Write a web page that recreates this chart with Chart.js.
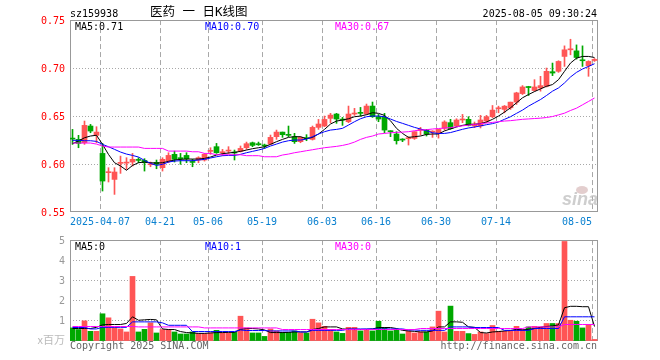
<!DOCTYPE html>
<html><head><meta charset="utf-8">
<script src="https://cdn.jsdelivr.net/npm/chart.js@4"></script>
<style>
html,body{margin:0;padding:0;background:#fff;}
#wrap{position:relative;width:660px;height:360px;overflow:hidden;}
canvas{position:absolute;left:0;top:0;}
</style></head><body>
<div id="wrap"><canvas id="k" width="660" height="360"></canvas><canvas id="v" width="660" height="360"></canvas></div>
<script>
// ---------------- data ----------------
const dates = ['03-28','03-31','04-01','04-02','04-03','04-07','04-08','04-09','04-10','04-11',
 '04-14','04-15','04-16','04-17','04-18','04-21','04-22','04-23','04-24','04-25',
 '04-28','04-29','04-30','05-06','05-07','05-08','05-09','05-12','05-13','05-14',
 '05-15','05-16','05-19','05-20','05-21','05-22','05-23','05-26','05-27','05-28',
 '05-29','05-30','06-03','06-04','06-05','06-06','06-09','06-10','06-11','06-12',
 '06-13','06-16','06-17','06-18','06-19','06-20','06-23','06-24','06-25','06-26',
 '06-27','06-30','07-01','07-02','07-03','07-04','07-07','07-08','07-09','07-10',
 '07-11','07-14','07-15','07-16','07-17','07-18','07-21','07-22','07-23','07-24',
 '07-25','07-28','07-29','07-30','07-31','08-01','08-04','08-05'];

const open = [0.6267,0.6257,0.6222,0.6396,0.6299,0.6111,0.5910,0.5840,0.6007,0.6010,
 0.6021,0.6045,0.6038,0.5993,0.6017,0.5962,0.6031,0.6101,0.6063,0.6090,
 0.6024,0.6042,0.6042,0.6132,0.6181,0.6118,0.6135,0.6122,0.6132,0.6170,
 0.6222,0.6212,0.6194,0.6208,0.6285,0.6333,0.6306,0.6285,0.6233,0.6271,
 0.6257,0.6382,0.6396,0.6476,0.6521,0.6462,0.6441,0.6521,0.6531,0.6521,
 0.6604,0.6493,0.6486,0.6340,0.6313,0.6253,0.6264,0.6267,0.6351,0.6354,
 0.6333,0.6319,0.6372,0.6431,0.6397,0.6459,0.6466,0.6397,0.6397,0.6448,
 0.6493,0.6576,0.6569,0.6586,0.6645,0.6734,0.6807,0.6766,0.6793,0.6810,
 0.6962,0.6966,0.7121,0.7190,0.7179,0.7086,0.7024,0.7079];
const high = [0.6361,0.6299,0.6448,0.6413,0.6389,0.6215,0.5962,0.5962,0.6083,0.6066,
 0.6111,0.6066,0.6056,0.6021,0.6042,0.6066,0.6118,0.6135,0.6111,0.6118,
 0.6049,0.6076,0.6111,0.6170,0.6215,0.6153,0.6181,0.6146,0.6188,0.6229,
 0.6229,0.6229,0.6208,0.6302,0.6354,0.6333,0.6396,0.6320,0.6285,0.6306,
 0.6396,0.6465,0.6500,0.6528,0.6528,0.6486,0.6604,0.6580,0.6590,0.6625,
 0.6646,0.6517,0.6528,0.6347,0.6337,0.6264,0.6285,0.6337,0.6382,0.6361,
 0.6347,0.6361,0.6451,0.6466,0.6472,0.6517,0.6493,0.6438,0.6507,0.6507,
 0.6610,0.6603,0.6610,0.6645,0.6748,0.6817,0.6810,0.6879,0.6914,0.7000,
 0.7052,0.7076,0.7231,0.7300,0.7241,0.7231,0.7076,0.7100];
const low = [0.6205,0.6170,0.6205,0.6326,0.6222,0.5719,0.5813,0.5684,0.5903,0.5944,
 0.5979,0.6014,0.5927,0.5972,0.5951,0.5927,0.6014,0.6021,0.5997,0.6014,
 0.5972,0.6014,0.6031,0.6101,0.6111,0.6090,0.6111,0.6042,0.6125,0.6153,
 0.6181,0.6194,0.6163,0.6205,0.6257,0.6278,0.6285,0.6215,0.6222,0.6243,
 0.6250,0.6361,0.6389,0.6431,0.6424,0.6403,0.6431,0.6507,0.6500,0.6517,
 0.6486,0.6441,0.6326,0.6285,0.6208,0.6233,0.6198,0.6257,0.6302,0.6292,
 0.6278,0.6270,0.6354,0.6362,0.6390,0.6431,0.6397,0.6379,0.6376,0.6431,
 0.6483,0.6534,0.6534,0.6569,0.6621,0.6724,0.6714,0.6759,0.6759,0.6803,
 0.6921,0.6955,0.7017,0.7138,0.7093,0.7017,0.6914,0.7069];
const close = [0.6260,0.6215,0.6403,0.6344,0.6333,0.5823,0.5917,0.5917,0.6014,0.6017,
 0.6049,0.6038,0.6014,0.6000,0.5997,0.6049,0.6090,0.6049,0.6056,0.6056,
 0.6017,0.6066,0.6101,0.6139,0.6118,0.6125,0.6142,0.6115,0.6163,0.6212,
 0.6194,0.6201,0.6188,0.6278,0.6333,0.6306,0.6299,0.6233,0.6278,0.6264,
 0.6382,0.6417,0.6465,0.6510,0.6469,0.6458,0.6521,0.6528,0.6528,0.6604,
 0.6493,0.6469,0.6354,0.6337,0.6243,0.6250,0.6267,0.6337,0.6354,0.6313,
 0.6337,0.6361,0.6438,0.6369,0.6459,0.6466,0.6403,0.6417,0.6459,0.6493,
 0.6562,0.6583,0.6603,0.6645,0.6741,0.6803,0.6797,0.6803,0.6817,0.6966,
 0.6948,0.7069,0.7190,0.7200,0.7110,0.7076,0.7069,0.7090];

const ma5 = [0.6212,0.6240,0.6274,0.6292,0.6300,0.6205,0.6100,0.6014,0.5980,0.5935,
 0.5985,0.6014,0.6021,0.6014,0.6010,0.6014,0.6028,0.6042,0.6049,0.6052,
 0.6052,0.6052,0.6059,0.6073,0.6094,0.6108,0.6115,0.6122,0.6132,0.6146,
 0.6160,0.6170,0.6180,0.6205,0.6233,0.6257,0.6278,0.6285,0.6285,0.6264,
 0.6278,0.6313,0.6361,0.6417,0.6448,0.6458,0.6472,0.6493,0.6500,0.6514,
 0.6535,0.6528,0.6507,0.6451,0.6372,0.6319,0.6278,0.6285,0.6292,0.6309,
 0.6313,0.6313,0.6345,0.6366,0.6386,0.6403,0.6414,0.6414,0.6421,0.6438,
 0.6466,0.6500,0.6541,0.6586,0.6638,0.6690,0.6724,0.6755,0.6783,0.6810,
 0.6828,0.6879,0.6966,0.7052,0.7103,0.7121,0.7121,0.7110];
const ma10 = [0.6247,0.6247,0.6243,0.6243,0.6236,0.6205,0.6180,0.6153,0.6125,0.6104,
 0.6090,0.6073,0.6038,0.6007,0.5986,0.5997,0.6021,0.6031,0.6035,0.6035,
 0.6035,0.6042,0.6049,0.6063,0.6076,0.6087,0.6090,0.6090,0.6101,0.6118,
 0.6132,0.6146,0.6163,0.6188,0.6208,0.6229,0.6243,0.6250,0.6250,0.6260,
 0.6285,0.6313,0.6337,0.6354,0.6361,0.6372,0.6406,0.6441,0.6472,0.6493,
 0.6500,0.6500,0.6493,0.6469,0.6444,0.6424,0.6403,0.6382,0.6365,0.6347,
 0.6326,0.6319,0.6319,0.6328,0.6345,0.6362,0.6376,0.6386,0.6397,0.6410,
 0.6421,0.6438,0.6466,0.6493,0.6528,0.6562,0.6603,0.6638,0.6672,0.6714,
 0.6759,0.6793,0.6845,0.6907,0.6955,0.6990,0.7017,0.7045];
const ma30 = [0.6219,0.6219,0.6219,0.6219,0.6208,0.6188,0.6177,0.6177,0.6177,0.6177,
 0.6177,0.6177,0.6163,0.6163,0.6163,0.6163,0.6135,0.6135,0.6135,0.6135,
 0.6128,0.6128,0.6111,0.6111,0.6097,0.6097,0.6097,0.6097,0.6097,0.6087,
 0.6087,0.6087,0.6076,0.6076,0.6076,0.6094,0.6104,0.6118,0.6128,0.6139,
 0.6149,0.6160,0.6170,0.6177,0.6184,0.6194,0.6208,0.6229,0.6257,0.6278,
 0.6292,0.6313,0.6319,0.6326,0.6330,0.6333,0.6337,0.6347,0.6354,0.6358,
 0.6365,0.6370,0.6375,0.6380,0.6388,0.6398,0.6405,0.6412,0.6420,0.6427,
 0.6434,0.6441,0.6448,0.6452,0.6459,0.6466,0.6470,0.6474,0.6478,0.6485,
 0.6495,0.6512,0.6530,0.6558,0.6582,0.6617,0.6652,0.6688];

const volume = [0.65,0.57,1.0,0.48,0.48,1.35,1.15,0.67,0.6,0.45,
 3.2,0.45,0.58,0.9,0.4,0.57,0.57,0.45,0.35,0.35,
 0.45,0.37,0.37,0.4,0.53,0.4,0.4,0.43,1.23,0.65,
 0.4,0.4,0.23,0.6,0.5,0.43,0.43,0.5,0.4,0.4,
 1.08,0.9,0.73,0.57,0.45,0.38,0.68,0.68,0.5,0.57,
 0.5,0.98,0.67,0.5,0.57,0.35,0.5,0.4,0.45,0.45,
 0.7,1.48,0.45,1.73,0.48,0.48,0.37,0.33,0.45,0.37,
 0.77,0.48,0.48,0.48,0.73,0.57,0.7,0.73,0.7,0.87,
 0.87,0.87,4.93,1.03,0.98,0.65,0.82,0.08];
const volMa5 = [0.62,0.62,0.62,0.62,0.68,0.8,0.82,0.82,0.82,0.87,
 1.2,1.03,1.05,1.07,1.05,0.6,0.57,0.57,0.47,0.42,
 0.4,0.38,0.38,0.4,0.42,0.42,0.43,0.43,0.58,0.62,
 0.62,0.6,0.55,0.42,0.42,0.42,0.43,0.45,0.45,0.45,
 0.57,0.62,0.7,0.7,0.7,0.6,0.58,0.57,0.57,0.58,
 0.6,0.67,0.67,0.67,0.62,0.53,0.5,0.48,0.45,0.45,
 0.5,0.7,0.7,0.95,0.95,0.93,0.7,0.68,0.42,0.4,
 0.45,0.47,0.5,0.52,0.58,0.55,0.58,0.62,0.68,0.72,
 0.75,0.8,1.65,1.72,1.72,1.7,1.7,0.72];
const volMa10 = [0.67,0.67,0.67,0.6,0.6,0.68,0.68,0.68,0.68,0.68,
 0.95,0.95,0.95,0.95,0.95,0.9,0.78,0.78,0.78,0.78,
 0.47,0.47,0.47,0.47,0.47,0.47,0.47,0.47,0.55,0.52,
 0.52,0.52,0.52,0.5,0.5,0.5,0.5,0.5,0.45,0.45,
 0.53,0.53,0.53,0.53,0.53,0.53,0.6,0.6,0.6,0.6,
 0.6,0.6,0.6,0.6,0.6,0.6,0.55,0.55,0.53,0.53,
 0.53,0.53,0.53,0.7,0.7,0.7,0.7,0.67,0.67,0.67,
 0.67,0.67,0.53,0.53,0.53,0.53,0.53,0.62,0.62,0.62,
 0.62,0.62,1.2,1.2,1.2,1.2,1.2,1.2];
const volMa30 = [0.72,0.72,0.72,0.72,0.72,0.72,0.72,0.72,0.72,0.72,
 0.72,0.7,0.7,0.7,0.7,0.7,0.7,0.7,0.7,0.7,
 0.7,0.7,0.65,0.65,0.65,0.65,0.65,0.65,0.65,0.65,
 0.65,0.65,0.65,0.65,0.65,0.57,0.57,0.57,0.57,0.57,
 0.57,0.57,0.57,0.57,0.57,0.57,0.57,0.57,0.57,0.57,
 0.57,0.57,0.57,0.57,0.57,0.57,0.57,0.57,0.62,0.62,
 0.62,0.62,0.62,0.62,0.62,0.62,0.62,0.62,0.62,0.62,
 0.62,0.62,0.62,0.62,0.62,0.62,0.7,0.7,0.7,0.7,
 0.7,0.7,0.82,0.82,0.82,0.82,0.82,0.82];

const tickDates  = ['04-07','04-21','05-06','05-19','06-03','06-16','06-30','07-14','08-05'];
const tickLabels = ['2025-04-07','04-21','05-06','05-19','06-03','06-16','06-30','07-14','08-05'];
const priceTicks = [0.55,0.60,0.65,0.70,0.75];
const volTicks = [0,1,2,3,4,5];
const maLabels = ['MA5:0.71','MA10:0.70','MA30:0.67'];
const volMaLabels = ['MA5:0','MA10:1','MA30:0'];
const codeText = 'sz159938';
const titleText = '医药 一 日K线图';
const timeText = '2025-08-05 09:30:24';
const unitText = 'x百万';
const copyText = 'Copyright 2025 SINA.COM';
const urlText = 'http://finance.sina.com.cn';

// ---------------- style ----------------
const RED = '#ff5555', GREEN = '#00a800';
const MA_COLORS = ['#000000', '#0000ff', '#ff00ff'];
const MONO = '"DejaVu Sans Mono", monospace';
const N = dates.length;
const SHIFT = 1 / 12;
const tickIdx = tickDates.map(d => dates.indexOf(d));
const candleColor = close.map((c, i) => c >= open[i] ? RED : GREEN);
const LABEL_X = [75, 205, 335];

function xScaleCfg() {
  return {
    type: 'linear', offset: false,
    min: -0.5 + SHIFT, max: N - 0.5 + SHIFT,
    afterBuildTicks: s => { s.ticks = tickIdx.map(i => ({ value: i - 0.5 + SHIFT + 0.001 })); },
    afterFit: s => { s.height = 0; },
    ticks: { display: false },
    grid: { offset: false, color: '#a8a8a8', lineWidth: 1, drawTicks: false },
    border: { display: false, dash: [5, 3] }
  };
}
function frame(chart, ctx) {
  const a = chart.chartArea;
  const l = Math.round(a.left), t = Math.round(a.top), r = Math.round(a.right), b = Math.round(a.bottom);
  ctx.save();
  ctx.strokeStyle = '#999999'; ctx.lineWidth = 1;
  ctx.strokeRect(l + 0.5, t + 0.5, r - l - 1, b - t - 1);
  ctx.restore();
}
function lineDs(arr, color) {
  return { type: 'line', data: arr.map((v, i) => ({ x: i, y: v })), borderColor: color, borderWidth: 1,
    pointRadius: 0, fill: false, tension: 0, order: 1 };
}

// ---------------- price chart ----------------
const kPlugin = {
  id: 'kdecor',
  beforeDraw(chart) {
    const ctx = chart.ctx; ctx.save(); ctx.fillStyle = '#fff'; ctx.fillRect(0, 0, chart.width, chart.height); ctx.restore();
  },
  beforeDatasetsDraw(chart) {
    const ctx = chart.ctx;
    frame(chart, ctx);
    // watermark
    ctx.save();
    ctx.fillStyle = 'rgba(190,190,190,0.75)';
    ctx.font = 'italic bold 18px "Liberation Sans", sans-serif';
    ctx.textAlign = 'right'; ctx.textBaseline = 'alphabetic';
    ctx.fillText('sina', 598, 205);
    ctx.fillStyle = 'rgba(215,185,185,0.7)';
    ctx.beginPath(); ctx.ellipse(582, 190, 6, 4, 0, 0, Math.PI * 2); ctx.fill();
    ctx.restore();
  },
  afterDraw(chart) {
    const ctx = chart.ctx, xs = chart.scales.x, a = chart.chartArea;
    ctx.save();
    ctx.font = '10px ' + MONO; ctx.textBaseline = 'alphabetic';
    ctx.fillStyle = '#000'; ctx.textAlign = 'left';
    ctx.fillText(codeText, 70, 17);
    ctx.textAlign = 'right';
    ctx.fillText(timeText, 597, 17);
    // MA labels
    ctx.textAlign = 'left';
    maLabels.forEach((t, k) => { ctx.fillStyle = MA_COLORS[k]; ctx.fillText(t, LABEL_X[k], 30); });
    // date labels
    ctx.fillStyle = '#0a80d0';
    tickIdx.forEach((idx, k) => {
      const x = Math.round(xs.getPixelForValue(idx - 0.5 + SHIFT));
      const w = ctx.measureText(tickLabels[k]).width;
      if (x + w / 2 > a.right) { ctx.textAlign = 'right'; ctx.fillText(tickLabels[k], x, 225); }
      else { ctx.textAlign = 'center'; ctx.fillText(tickLabels[k], x, 225); }
    });
    // title
    ctx.fillStyle = '#000'; ctx.textAlign = 'left'; ctx.textBaseline = 'middle';
    ctx.font = '12.5px "DejaVu Sans Mono", "Noto Sans CJK SC", sans-serif';
    ctx.fillText(titleText, 150, 13);
    ctx.restore();
  }
};

new Chart(document.getElementById('k'), {
  type: 'line',
  data: {
    datasets: [
      { type: 'bar', data: dates.map((d, i) => ({ x: i, y: [low[i], high[i]] })), backgroundColor: candleColor,
        barThickness: 1, grouped: false, borderWidth: 0, order: 3 },
      { type: 'bar', data: dates.map((d, i) => ({ x: i, y: [open[i], close[i]] })), backgroundColor: candleColor,
        barThickness: 5, minBarLength: 1, grouped: false, borderWidth: 0, order: 2 },
      lineDs(ma30, MA_COLORS[2]), lineDs(ma10, MA_COLORS[1]), lineDs(ma5, MA_COLORS[0])
    ]
  },
  options: {
    responsive: false, animation: false, devicePixelRatio: 1, events: [],
    layout: { padding: { left: 0, right: 62, top: 20.05, bottom: 147.95 } },
    plugins: { legend: { display: false }, tooltip: { enabled: false } },
    scales: {
      x: xScaleCfg(),
      y: {
        type: 'linear', position: 'left', min: 0.55, max: 0.75,
        afterBuildTicks: s => { s.ticks = priceTicks.map(v => ({ value: v })); },
        afterFit: s => { s.width = 70; },
        ticks: { color: '#ff0000', font: { family: MONO, size: 10 }, padding: 5, labelOffset: 1,
          callback: v => Number(v).toFixed(2) },
        grid: { drawTicks: false, lineWidth: 1,
          color: c => (c.tick && (c.tick.value === priceTicks[0] || c.tick.value === priceTicks[priceTicks.length - 1])) ? 'rgba(0,0,0,0)' : '#a8a8a8' },
        border: { display: false, dash: [1, 2] }
      }
    }
  },
  plugins: [kPlugin]
});

// ---------------- volume chart ----------------
const vPlugin = {
  id: 'vdecor',
  beforeDatasetsDraw(chart) { frame(chart, chart.ctx); },
  afterDraw(chart) {
    const ctx = chart.ctx;
    ctx.save();
    ctx.font = '10px ' + MONO; ctx.textBaseline = 'alphabetic'; ctx.textAlign = 'left';
    volMaLabels.forEach((t, k) => { ctx.fillStyle = MA_COLORS[k]; ctx.fillText(t, LABEL_X[k], 250); });
    ctx.fillStyle = '#666666';
    ctx.fillText(copyText, 70, 349);
    ctx.textAlign = 'right';
    ctx.fillText(urlText, 597, 349);
    ctx.fillStyle = '#bbbbbb'; ctx.textBaseline = 'middle';
    ctx.font = '11px "Noto Sans CJK SC", sans-serif';
    ctx.fillText(unitText, 65, 340);
    ctx.restore();
  }
};

new Chart(document.getElementById('v'), {
  type: 'line',
  data: {
    datasets: [
      { type: 'bar', data: volume.map((v, i) => ({ x: i, y: v })), backgroundColor: candleColor,
        barThickness: 5, grouped: false, borderWidth: 0, order: 2 },
      lineDs(volMa30, MA_COLORS[2]), lineDs(volMa10, MA_COLORS[1]), lineDs(volMa5, MA_COLORS[0])
    ]
  },
  options: {
    responsive: false, animation: false, devicePixelRatio: 1, events: [],
    layout: { padding: { left: 0, right: 62, top: 240.05, bottom: 18.95 } },
    plugins: { legend: { display: false }, tooltip: { enabled: false } },
    scales: {
      x: xScaleCfg(),
      y: {
        type: 'linear', position: 'left', min: 0, max: 5,
        afterBuildTicks: s => { s.ticks = volTicks.map(v => ({ value: v })); },
        afterFit: s => { s.width = 70; },
        ticks: { color: '#999999', font: { family: MONO, size: 10 }, padding: 5, labelOffset: 1,
          callback: v => v === 0 ? '' : String(v) },
        grid: { drawTicks: false, lineWidth: 1,
          color: c => (c.tick && (c.tick.value === volTicks[0] || c.tick.value === volTicks[volTicks.length - 1])) ? 'rgba(0,0,0,0)' : '#a8a8a8' },
        border: { display: false, dash: [1, 2] }
      }
    }
  },
  plugins: [vPlugin]
});
</script>
</body></html>
